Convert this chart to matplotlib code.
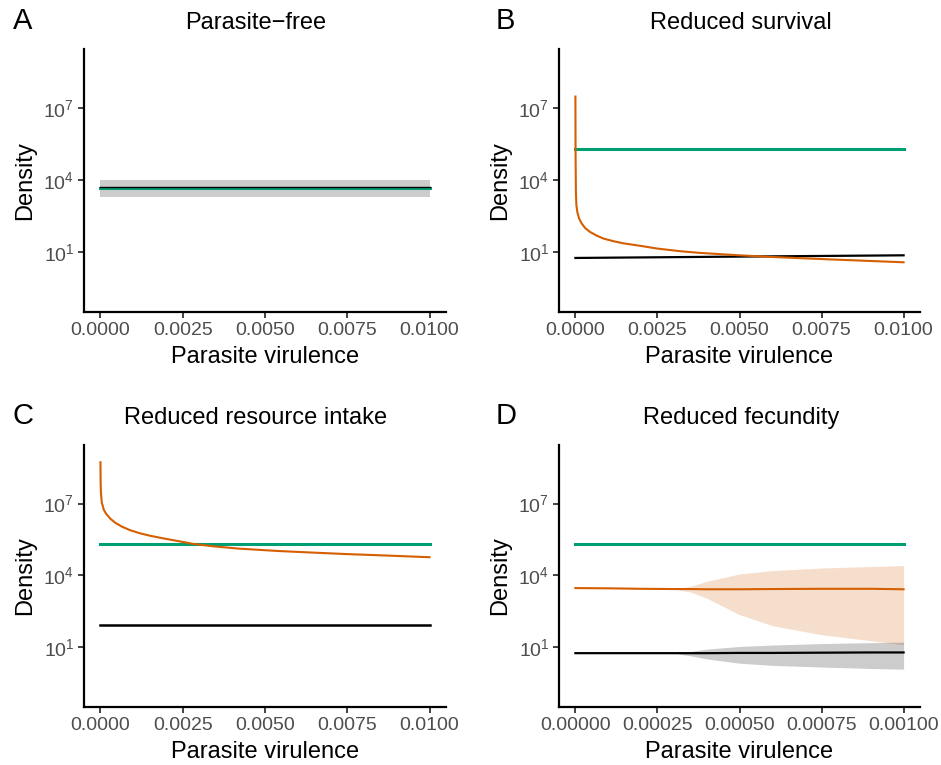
import matplotlib
matplotlib.use("Agg")
import matplotlib.pyplot as plt
import numpy as np

plt.rcParams['font.family'] = ['Liberation Sans', 'DejaVu Sans']
plt.rcParams['mathtext.fontset'] = 'custom'
plt.rcParams['mathtext.rm'] = 'Liberation Sans'
plt.rcParams['mathtext.it'] = 'Liberation Sans'

GREEN = '#009E73'
ORANGE = '#D55E00'

# panel A: parasite-free (log10 density)
a_v = [0.0, 0.01]
a_green = [3.65, 3.65]
a_black = [3.72, 3.72]
a_band_hi = [3.99, 3.99]
a_band_lo = [3.30, 3.30]

# panel B: reduced survival
b_v = [0.0, 0.000005, 0.000015, 0.00003, 0.00006, 0.00011, 0.00019, 0.0003,
       0.00045, 0.00065, 0.00085, 0.00115, 0.00146, 0.002, 0.0025, 0.0032,
       0.0038, 0.0044, 0.005, 0.006, 0.0074, 0.0087, 0.01]
b_orange = [7.47, 5.0, 3.5, 2.95, 2.65, 2.40, 2.19, 1.99,
            1.83, 1.68, 1.56, 1.45, 1.36, 1.25, 1.14, 1.03,
            0.96, 0.91, 0.86, 0.79, 0.71, 0.64, 0.57]
b_green = [5.28, 5.28]
b_black_v = [0.0, 0.0044, 0.01]
b_black = [0.75, 0.80, 0.86]

# panel C: reduced resource intake
c_v = [0.0, 0.000005, 0.000015, 0.00004, 0.0001, 0.00017, 0.0003, 0.00045,
       0.00065, 0.0009, 0.0012, 0.0015, 0.0019, 0.0023, 0.0028, 0.0034,
       0.0042, 0.0054, 0.0065, 0.0075, 0.0087, 0.01]
c_orange = [8.73, 7.9, 7.45, 7.05, 6.75, 6.58, 6.37, 6.20,
            6.04, 5.89, 5.76, 5.66, 5.55, 5.45, 5.32, 5.22,
            5.12, 5.02, 4.95, 4.89, 4.83, 4.76]
c_green = [5.30, 5.30]
c_black = [1.92, 1.92]

# panel D: reduced fecundity
d_v = [0.0, 0.0001, 0.0002, 0.0003, 0.00035, 0.0004, 0.0005, 0.0006,
       0.00075, 0.0009, 0.0010]
d_orange = [3.47, 3.46, 3.44, 3.43, 3.43, 3.42, 3.42, 3.43, 3.44, 3.44, 3.42]
d_orange_hi = [3.47, 3.46, 3.44, 3.43, 3.54, 3.75, 4.06, 4.20, 4.31, 4.37, 4.41]
d_orange_lo = [3.47, 3.46, 3.44, 3.43, 3.31, 3.05, 2.36, 1.90, 1.52, 1.27, 1.10]
d_black = [0.75, 0.75, 0.75, 0.75, 0.75, 0.75, 0.76, 0.76, 0.77, 0.78, 0.78]
d_black_hi = [0.75, 0.75, 0.75, 0.75, 0.82, 0.92, 1.03, 1.09, 1.15, 1.19, 1.21]
d_black_lo = [0.75, 0.75, 0.75, 0.75, 0.64, 0.51, 0.33, 0.24, 0.17, 0.11, 0.08]
d_green = [5.30, 5.30]

yticks = [1e1, 1e4, 1e7]
yticklabels = [r'$10^{1}$', r'$10^{4}$', r'$10^{7}$']
xt_main = [0.0, 0.0025, 0.005, 0.0075, 0.01]
xt_main_lab = ['0.0000', '0.0025', '0.0050', '0.0075', '0.0100']
xt_d = [0.0, 0.00025, 0.0005, 0.00075, 0.001]
xt_d_lab = ['0.00000', '0.00025', '0.00050', '0.00075', '0.00100']

W, H = 941, 765
fig = plt.figure(figsize=(W / 100, H / 100), dpi=100)


def p(v):
    return 10 ** np.asarray(v)


def make_ax(left, right, top, bottom, xmax, xt, xtl):
    ax = fig.add_axes([left / W, 1 - bottom / H, (right - left) / W, (bottom - top) / H])
    ax.set_yscale('log')
    ax.set_ylim(10 ** -1.5, 10 ** 9.45)
    ax.set_xlim(-0.05 * xmax, 1.05 * xmax)
    for s in ['top', 'right']:
        ax.spines[s].set_visible(False)
    for s in ['left', 'bottom']:
        ax.spines[s].set_linewidth(1.6)
        ax.spines[s].set_color('black')
    ax.set_yticks(yticks)
    ax.set_yticklabels(yticklabels)
    ax.yaxis.set_minor_locator(matplotlib.ticker.NullLocator())
    ax.set_xticks(xt)
    ax.set_xticklabels(xtl)
    ax.tick_params(axis='both', length=4, width=1.3, color='#333333',
                   labelcolor='#4D4D4D', labelsize=14, pad=3)
    ax.set_xlabel('Parasite virulence', fontsize=17, labelpad=5)
    ax.set_ylabel('Density', fontsize=17, labelpad=5)
    return ax


# A
ax = make_ax(84, 446, 49, 312, 0.01, xt_main, xt_main_lab)
ax.fill_between(a_v, p(a_band_lo), p(a_band_hi), color='#CCCCCC', lw=0)
ax.plot(a_v, p(a_green), color=GREEN, lw=2.2)
ax.plot(a_v, p(a_black), color='black', lw=1.0)

# B
ax = make_ax(559, 920, 49, 312, 0.01, xt_main, xt_main_lab)
ax.plot([0.0, 0.01], p(b_green), color=GREEN, lw=2.2)
ax.plot(b_black_v, p(b_black), color='black', lw=1.6)
ax.plot(b_v, p(b_orange), color=ORANGE, lw=1.5)

# C
ax = make_ax(84, 446, 445, 707, 0.01, xt_main, xt_main_lab)
ax.plot([0.0, 0.01], p(c_green), color=GREEN, lw=2.2)
ax.plot([0.0, 0.01], p(c_black), color='black', lw=1.8)
ax.plot(c_v, p(c_orange), color=ORANGE, lw=1.5)

# D
ax = make_ax(559, 920, 445, 707, 0.001, xt_d, xt_d_lab)
ax.fill_between(d_v, p(d_orange_lo), p(d_orange_hi), color=ORANGE, alpha=0.2, lw=0)
ax.fill_between(d_v, p(d_black_lo), p(d_black_hi), color='black', alpha=0.2, lw=0)
ax.plot([0.0, 0.001], p(d_green), color=GREEN, lw=2.2)
ax.plot(d_v, p(d_black), color='black', lw=1.6)
ax.plot(d_v, p(d_orange), color=ORANGE, lw=1.5)

titles = ['Parasite\u2212free', 'Reduced survival', 'Reduced resource intake', 'Reduced fecundity']
letters = ['A', 'B', 'C', 'D']
tx = [256, 741, 256, 741]
ty = [23, 23, 418, 418]
lx = [13, 496, 13, 496]
for t, l, x, y, x2 in zip(titles, letters, tx, ty, lx):
    fig.text(x / W, 1 - y / H, t, fontsize=17, ha='center', va='center')
    fig.text(x2 / W, 1 - (y - 2) / H, l, fontsize=21, ha='left', va='center')

fig.savefig('out.png', dpi=100)
